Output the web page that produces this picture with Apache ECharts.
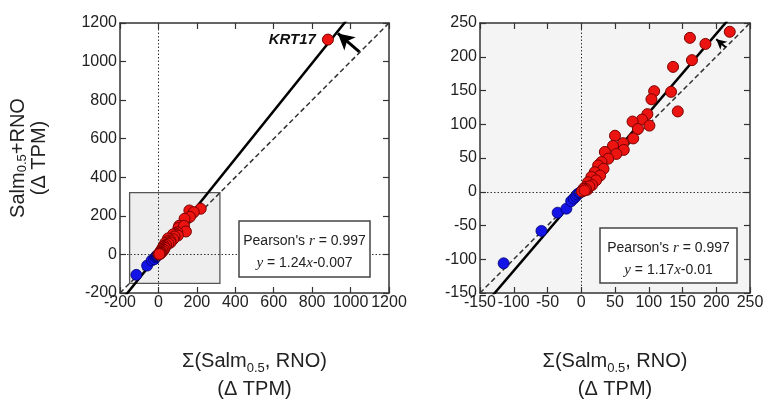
<!DOCTYPE html>
<html><head><meta charset="utf-8">
<script src="https://cdn.jsdelivr.net/npm/echarts@6/dist/echarts.min.js"></script>
<style>html,body{margin:0;padding:0;background:#fff}#c{width:765px;height:399px}</style>
</head><body><div id="c"></div>
<script>
// ---- data ----
const redX = [220,161,184,164,136,108,104,133,143,98,90,76,101,84,77,50,62,47,63,35,52,40,30,25,33,20,28,15,22,10,16,6,9,4,2,12,7,3,1,5];
const redY = [237,228,219,195,185,149,137,148,119,115,107,104,98,93,79,83,72,68,62,59,56,49,44,39,34,29,24,22,17,14,10,7,3,2,1,8,4,4,0.5,2];
const blueX = [-115,-59,-35,-22,-15,-11,-8,-6,-3,-1.5];
const blueY = [-106,-58,-31,-25,-14,-10,-7,-4,-2,-1];
const outlierName = 'KRT17';
const outlierX = 882, outlierY = 1114;
// fits
const leftFit = {slope: 1.24, intercept: -0.007, r: 0.997};
const rightFit = {slope: 1.17, intercept: -0.01, r: 0.997};
// axis ranges / ticks
const leftRange = {min: -200, max: 1200, interval: 200};
const rightRange = {min: -150, max: 250, interval: 50};
// zoom inset on left panel (data units)
const insetBox = [[-150, -150], [320, 320]];
// arrows (data units): [tail, tip]
const leftArrow = [[1046, 1050], [934, 1146]];
const rightArrow = [[214, 214], [200, 226]];

const FONT = 'Liberation Sans';
const pairs = (xs, ys) => xs.map((x, i) => [x, ys[i]]);
const red = pairs(redX, redY);
const blue = pairs(blueX, blueY);
const fitLine = (f, r) => [[r.min, f.slope * r.min + f.intercept], [r.max, f.slope * r.max + f.intercept]];

const redStyle = {color: '#ec1410', borderColor: '#7a0000', borderWidth: 1, opacity: 1};
const blueStyle = {color: '#1414e6', borderColor: '#000070', borderWidth: 0.8, opacity: 1};
const SYM = 11;

const titleRich = {
  t: {fontSize: 20, fontFamily: FONT, color: '#222', lineHeight: 28},
  s: {fontSize: 13, fontFamily: FONT, color: '#222', lineHeight: 13, verticalAlign: 'bottom'}
};
const yTitleRich = {
  t: {fontSize: 20, fontFamily: FONT, color: '#222', lineHeight: 21},
  s: {fontSize: 13, fontFamily: FONT, color: '#222', lineHeight: 10, verticalAlign: 'bottom'}
};
const tickLabel = (m) => ({show: true, margin: m, fontSize: 16, fontFamily: FONT, color: '#222',
  hideOverlap: false, formatter: v => String(v)});

function mainX(gi, r) {
  return {
    gridIndex: gi, type: 'value', position: 'bottom', min: r.min, max: r.max, interval: r.interval,
    axisLine: {show: true, onZero: false, lineStyle: {color: '#333', width: 1.5}},
    axisTick: {show: true, inside: true, length: 6, lineStyle: {color: '#333', width: 1.2}},
    axisLabel: tickLabel(2),
    splitLine: {show: false},
    name: '{t|Σ(Salm}{s|0.5}{t|, RNO)}\n{t|(Δ TPM)}', nameLocation: 'middle', nameGap: 54,
    nameTextStyle: {rich: titleRich, lineHeight: 28}
  };
}
function mirrorX(gi, r) {
  return {
    gridIndex: gi, type: 'value', position: 'top', min: r.min, max: r.max, interval: r.interval,
    axisLine: {show: true, onZero: false, lineStyle: {color: '#333', width: 1.5}},
    axisTick: {show: true, inside: true, length: 6, lineStyle: {color: '#333', width: 1.2}},
    axisLabel: {show: false}, splitLine: {show: false}
  };
}
function mainY(gi, r, withName) {
  const a = {
    gridIndex: gi, type: 'value', position: 'left', min: r.min, max: r.max, interval: r.interval,
    axisLine: {show: true, onZero: false, lineStyle: {color: '#333', width: 1.5}},
    axisTick: {show: true, inside: true, length: 6, lineStyle: {color: '#333', width: 1.2}},
    axisLabel: tickLabel(3),
    splitLine: {show: false}
  };
  if (withName) {
    a.name = '{t|Salm}{s|0.5}{t|+RNO}\n{t|(Δ TPM)}';
    a.nameLocation = 'middle';
    a.nameGap = 70;
    a.nameTextStyle = {rich: yTitleRich, lineHeight: 21};
  }
  return a;
}
function mirrorY(gi, r) {
  return {
    gridIndex: gi, type: 'value', position: 'right', min: r.min, max: r.max, interval: r.interval,
    axisLine: {show: true, onZero: false, lineStyle: {color: '#333', width: 1.5}},
    axisTick: {show: true, inside: true, length: 6, lineStyle: {color: '#333', width: 1.2}},
    axisLabel: {show: false}, splitLine: {show: false}
  };
}

function zeroLines() {
  return {
    silent: true, symbol: 'none', label: {show: false},
    lineStyle: {type: [1.5, 2], color: '#333', width: 1},
    data: [{xAxis: 0}, {yAxis: 0}]
  };
}
function arrowLine(a, size, width) {
  return {
    silent: true, symbol: ['none', 'arrow'], symbolSize: size, label: {show: false},
    lineStyle: {type: 'solid', color: '#000', width: width, opacity: 1},
    itemStyle: {color: '#000', opacity: 1},
    data: [[{coord: a[0]}, {coord: a[1]}]]
  };
}

function panelSeries(xi, yi, r, fit, withOutlier, arrow, arrowSize, arrowWidth) {
  const s = [];
  s.push({
    type: 'line', xAxisIndex: xi, yAxisIndex: yi, data: [], silent: true, z: 1,
    markArea: withOutlier ? {silent: true, itemStyle: {color: '#eeeeee', borderColor: '#555', borderWidth: 1.3, opacity: 1},
      data: [[{coord: insetBox[0]}, {coord: insetBox[1]}]]} : undefined,
    markLine: zeroLines()
  });
  s.push({
    type: 'line', xAxisIndex: xi, yAxisIndex: yi, z: 2, silent: true, showSymbol: false, symbol: 'none',
    clip: true, data: [[r.min, r.min], [r.max, r.max]],
    lineStyle: {color: '#333', width: 1.5, type: [5, 3], opacity: 1}
  });
  s.push({
    type: 'line', xAxisIndex: xi, yAxisIndex: yi, z: 3, silent: true, showSymbol: false, symbol: 'none',
    clip: true, data: fitLine(fit, r),
    lineStyle: {color: '#000', width: 2.5, type: 'solid', opacity: 1}
  });
  s.push({
    type: 'scatter', xAxisIndex: xi, yAxisIndex: yi, z: 4, symbolSize: SYM, data: blue, itemStyle: blueStyle
  });
  s.push({
    type: 'scatter', xAxisIndex: xi, yAxisIndex: yi, z: 5, symbolSize: SYM, data: red, itemStyle: redStyle,
    markLine: withOutlier ? undefined : arrowLine(arrow, arrowSize, arrowWidth)
  });
  if (withOutlier) {
    s.push({
      type: 'scatter', xAxisIndex: xi, yAxisIndex: yi, z: 5, symbolSize: SYM,
      data: [{value: [outlierX, outlierY], name: outlierName}], itemStyle: redStyle,
      label: {show: true, position: 'left', distance: 6, formatter: '{b}', fontSize: 15, fontWeight: 'bold',
        fontStyle: 'italic', fontFamily: FONT, color: '#111'},
      markLine: arrowLine(arrow, arrowSize, arrowWidth)
    });
  }
  return s;
}

function statBox(x, y, w, h, fit) {
  const cx = x + w / 2;
  const rich = {i: {fontStyle: 'italic', fontFamily: 'Liberation Serif', fontSize: 15, fill: '#222', color: '#222'}};
  const line = (txt, yy) => ({
    type: 'text', x: cx, y: yy, z: 101,
    style: {text: txt, fontSize: 14, fontFamily: FONT, fill: '#222', align: 'center', verticalAlign: 'middle',
      textAlign: 'center', textVerticalAlign: 'middle', rich: rich}
  });
  const fmt = v => (v < 0 ? '-' : '+') + Math.abs(v);
  return [
    {type: 'rect', shape: {x: x, y: y, width: w, height: h}, z: 100,
      style: {fill: '#fff', stroke: '#444', lineWidth: 1.5}},
    line("Pearson's {i|r} = " + fit.r, y + h * 0.36),
    line('{i|y} = ' + fit.slope + '{i|x}' + fmt(fit.intercept), y + h * 0.76)
  ];
}

const chart = echarts.init(document.getElementById('c'), null, {renderer: 'canvas'});
chart.setOption({
  animation: false,
  backgroundColor: '#fff',
  grid: [
    {left: 120, top: 23, width: 269, height: 270, show: false, outerBoundsMode: 'none'},
    {left: 480, top: 23, width: 270, height: 270, show: true, backgroundColor: '#f4f4f4', borderWidth: 0, outerBoundsMode: 'none'}
  ],
  xAxis: [mainX(0, leftRange), mirrorX(0, leftRange), mainX(1, rightRange), mirrorX(1, rightRange)],
  yAxis: [mainY(0, leftRange, true), mirrorY(0, leftRange), mainY(1, rightRange, false), mirrorY(1, rightRange)],
  series: [].concat(
    panelSeries(0, 0, leftRange, leftFit, true, leftArrow, [13, 16], 3),
    panelSeries(2, 2, rightRange, rightFit, false, rightArrow, [8, 10], 2)
  ),
  graphic: [].concat(
    statBox(239, 221, 131, 56, leftFit),
    statBox(600, 228, 137, 55, rightFit)
  )
});
</script></body></html>
